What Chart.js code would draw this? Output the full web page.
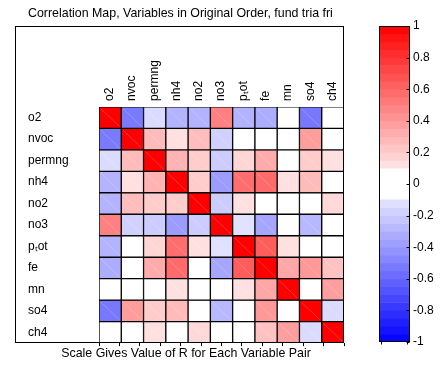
<!DOCTYPE html>
<html>
<head>
<meta charset="utf-8">
<script src="https://cdn.jsdelivr.net/npm/chart.js@4/dist/chart.umd.min.js"></script>
<style>
  body { margin: 0; background: #fff; }
  #wrap { position: relative; width: 441px; height: 367px; }
  #mapa { position: absolute; left: 0; top: 0; }
  #escala { position: absolute; left: 360px; top: 0; }
</style>
</head>
<body>
<div id="wrap">
  <canvas id="mapa" width="441" height="367"></canvas>
  <canvas id="escala" width="81" height="367"></canvas>
</div>
<script>
// variaveis (linhas e colunas na ordem original)
const variables = ['o2', 'nvoc', 'permng', 'nh4', 'no2', 'no3', 'pₜot', 'fe', 'mn', 'so4', 'ch4'];

const rO2     = [1, -0.52, -0.14, -0.30, -0.30, 0.50, -0.30, -0.32, 0.03, -0.53, 0.02];
const rNvoc   = [-0.52, 1, 0.27, 0.12, 0.26, -0.18, 0.04, 0.02, 0.05, 0.39, 0.03];
const rPermng = [-0.14, 0.27, 1, 0.30, 0.20, -0.20, 0.16, 0.33, 0.05, 0.20, 0.12];
const rNh4    = [-0.30, 0.12, 0.30, 1, 0.20, -0.39, 0.57, 0.58, 0.12, 0.27, 0.04];
const rNo2    = [-0.30, 0.26, 0.20, 0.20, 1, -0.20, 0.12, 0.05, 0.03, 0.06, 0.15];
const rNo3    = [0.50, -0.18, -0.20, -0.39, -0.20, 1, -0.12, -0.35, 0.02, -0.28, 0.04];
const rPtot   = [-0.30, 0.04, 0.16, 0.57, 0.12, -0.12, 1, 0.64, 0.12, 0.05, 0.03];
const rFe     = [-0.32, 0.02, 0.33, 0.58, 0.05, -0.35, 0.64, 1, 0.35, 0.40, 0.24];
const rMn     = [0.03, 0.05, 0.05, 0.12, 0.03, 0.02, 0.12, 0.35, 1, 0.05, 0.38];
const rSo4    = [-0.53, 0.39, 0.20, 0.27, 0.06, -0.28, 0.05, 0.40, 0.05, 1, -0.14];
const rCh4    = [0.02, 0.03, 0.12, 0.04, 0.15, 0.04, 0.03, 0.24, 0.38, -0.14, 1];

// faixas da escala de cores e rotulos
const faixasPos = [1, 0.95, 0.9, 0.85, 0.8, 0.75, 0.7, 0.65, 0.6, 0.55, 0.5, 0.45, 0.4, 0.35, 0.3, 0.25, 0.2, 0.15, 0.1];
const faixasNeg = [-0.1, -0.15, -0.2, -0.25, -0.3, -0.35, -0.4, -0.45, -0.5, -0.55, -0.6, -0.65, -0.7, -0.75, -0.8, -0.85, -0.9, -0.95, -1];
const escalaTicks = [-1, -0.8, -0.6, -0.4, -0.2, 0, 0.2, 0.4, 0.6, 0.8, 1];

const filas = [rO2, rNvoc, rPermng, rNh4, rNo2, rNo3, rPtot, rFe, rMn, rSo4, rCh4];

const fonte = { family: "'Liberation Sans', Arial, sans-serif", size: 12 };
const fonteTitulo = { family: "'Liberation Sans', Arial, sans-serif", size: 12.4, weight: 'normal' };

function corDe(r) {
  if (Math.abs(r) < 0.1) return '#ffffff';
  const c = Math.round(255 * (1 - Math.abs(r)));
  return r > 0 ? `rgb(255,${c},${c})` : `rgb(${c},${c},255)`;
}

// moldura externa e a diagonal clara de cada celula colorida
const moldura = {
  id: 'moldura',
  afterDatasetsDraw(chart) {
    const { ctx } = chart;
    ctx.save();
    ctx.strokeStyle = 'rgba(255,255,255,0.2)';
    ctx.lineWidth = 1;
    chart.data.datasets.forEach((ds, i) => {
      chart.getDatasetMeta(i).data.forEach((bar, j) => {
        if (Math.abs(filas[i][j]) < 0.1) return;
        const p = bar.getProps(['x', 'y', 'base', 'width']);
        const l = p.x - p.width / 2, r = p.x + p.width / 2;
        const t = Math.min(p.y, p.base), b = Math.max(p.y, p.base);
        ctx.beginPath();
        ctx.moveTo(l + 2, t + 2);
        ctx.lineTo(r - 2, b - 2);
        ctx.stroke();
      });
    });
    ctx.restore();
  },
  afterDraw(chart) {
    const { ctx, chartArea } = chart;
    ctx.save();
    ctx.strokeStyle = '#000';
    ctx.lineWidth = 1;
    ctx.strokeRect(15.5, 26.5, Math.round(chartArea.right) - 16, Math.round(chartArea.bottom) - 27);
    ctx.restore();
  }
};

new Chart(document.getElementById('mapa'), {
  type: 'bar',
  data: {
    labels: variables,
    datasets: filas.map((fila, i) => ({
      label: variables[i],
      data: fila.map(() => 1),
      backgroundColor: fila.map(corDe),
      borderColor: '#000',
      borderWidth: 1,
      borderSkipped: false,
      barPercentage: 1,
      categoryPercentage: 1
    }))
  },
  options: {
    responsive: false,
    animation: false,
    layout: { padding: { left: 28, right: 97, top: 0, bottom: 0 } },
    plugins: {
      legend: { display: false },
      tooltip: { enabled: false },
      title: {
        display: true,
        align: 'start',
        text: 'Correlation Map, Variables in Original Order, fund tria fri',
        color: '#000',
        font: fonteTitulo,
        padding: { top: 6, bottom: 8 }
      },
      subtitle: {
        display: true,
        position: 'bottom',
        text: 'Scale Gives Value of R for Each Variable Pair',
        color: '#000',
        font: fonteTitulo,
        padding: { top: 0, bottom: 6 }
      }
    },
    scales: {
      x: {
        position: 'top',
        stacked: true,
        grid: { display: false, drawTicks: false },
        border: { display: false },
        ticks: { minRotation: 90, maxRotation: 90, padding: 6, labelOffset: 14, autoSkip: false, color: '#000', font: fonte },
        afterFit: s => { s.height = 78; }
      },
      x2: {
        type: 'linear',
        position: 'bottom',
        min: 0,
        max: 11,
        ticks: { display: false, stepSize: 1 },
        grid: { drawOnChartArea: false, tickLength: 3, color: '#000' },
        border: { display: false },
        afterFit: s => { s.height = 3; }
      },
      y: {
        type: 'linear',
        min: 0,
        max: 11,
        reverse: true,
        stacked: true,
        grid: { display: false, drawTicks: false },
        border: { display: false },
        afterBuildTicks: s => { s.ticks = variables.map((v, i) => ({ value: i + 0.5 })); },
        ticks: { crossAlign: 'far', autoSkip: false, color: '#000', font: fonte, callback: (v, i) => variables[i] },
        afterFit: s => { s.width = 71; }
      }
    }
  },
  plugins: [moldura]
});

// escala de cores
const bandas = [];
for (let i = 0; i < faixasPos.length - 1; i++) {
  bandas.push([faixasPos[i + 1], faixasPos[i]]);
}
for (let i = 0; i < faixasNeg.length - 1; i++) {
  bandas.push([faixasNeg[i + 1], faixasNeg[i]]);
}

const bordaEscala = {
  id: 'bordaEscala',
  afterDraw(chart) {
    const { ctx, chartArea } = chart;
    const y = chart.scales.y;
    ctx.save();
    ctx.strokeStyle = '#000';
    ctx.lineWidth = 1;
    const l = Math.round(chartArea.left) + 0.5, r = Math.round(chartArea.right) - 0.5;
    const t = Math.round(chartArea.top) + 0.5, b = Math.round(chartArea.bottom) - 0.5;
    ctx.strokeRect(l, t, r - l, b - t);
    ctx.beginPath();
    escalaTicks.forEach(v => {
      const py = Math.round(y.getPixelForValue(v)) + 0.5;
      ctx.moveTo(r - 3, py);
      ctx.lineTo(r, py);
    });
    ctx.moveTo(l + 2, b); ctx.lineTo(l + 2, b + 3);
    ctx.moveTo(r - 2, b); ctx.lineTo(r - 2, b + 3);
    ctx.stroke();
    ctx.restore();
  }
};

new Chart(document.getElementById('escala'), {
  type: 'bar',
  data: {
    labels: ['R'],
    datasets: bandas.map(b => ({
      data: [b],
      backgroundColor: corDe((b[0] + b[1]) / 2),
      borderWidth: 0,
      grouped: false,
      barPercentage: 1,
      categoryPercentage: 1
    }))
  },
  options: {
    responsive: false,
    animation: false,
    layout: { padding: { left: 19, right: 0, top: 26, bottom: 25 } },
    plugins: { legend: { display: false }, tooltip: { enabled: false } },
    scales: {
      x: { display: false },
      y: {
        position: 'right',
        min: -1,
        max: 1,
        grid: { drawOnChartArea: false, drawTicks: false },
        border: { display: false },
        afterBuildTicks: s => { s.ticks = escalaTicks.map(v => ({ value: v })); },
        ticks: { padding: 3, color: '#000', font: fonte, callback: v => String(v) },
        afterFit: s => { s.width = 31; }
      }
    }
  },
  plugins: [bordaEscala]
});
</script>
</body>
</html>
